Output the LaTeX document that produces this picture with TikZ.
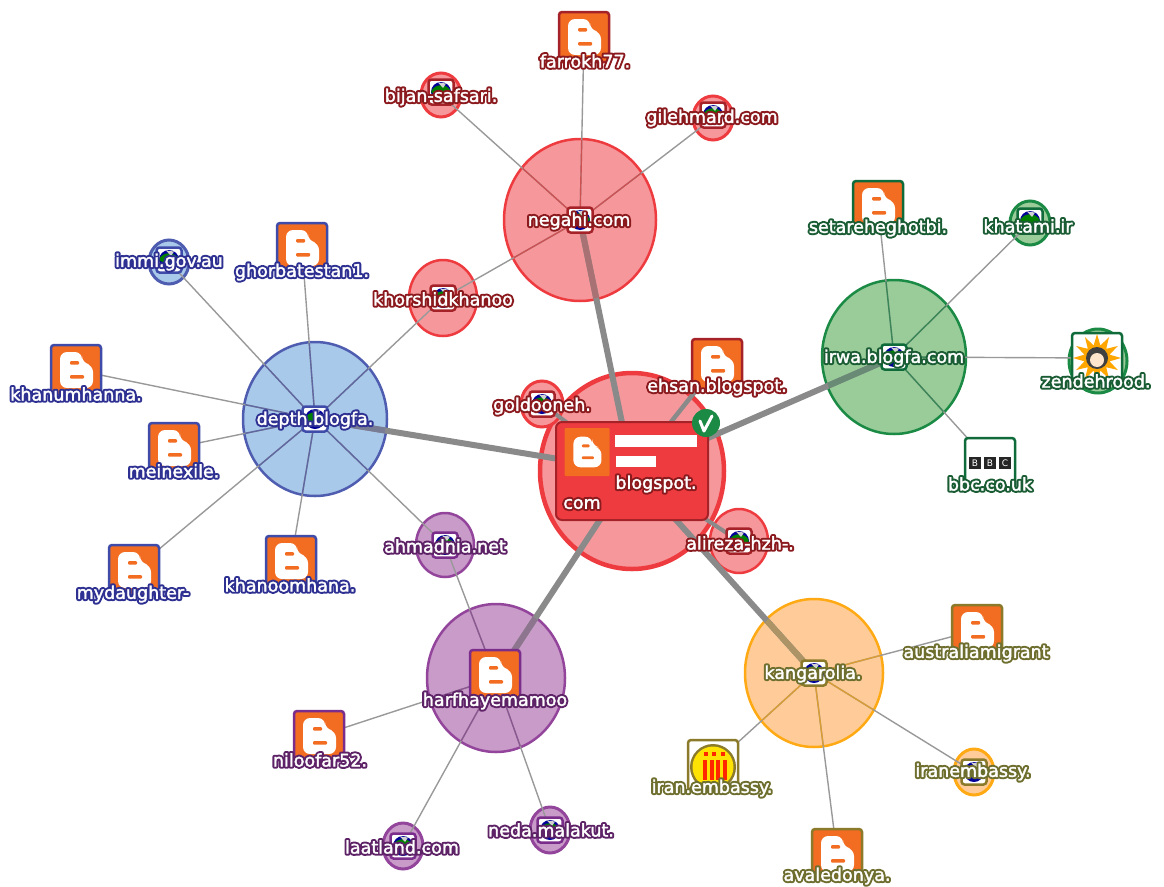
\documentclass[tikz,border=0pt]{standalone}
\usepackage{fontspec}
\setmainfont{DejaVu Sans}
\newfontface\haloface[FakeBold=25]{DejaVu Sans}
\newfontface\whiteface[FakeBold=2]{DejaVu Sans}
\usetikzlibrary{shapes.geometric}
\definecolor{RedB}{HTML}{EE3B3F}\definecolor{RedF}{HTML}{F6989B}\definecolor{RedI}{HTML}{A52228}\definecolor{RedT}{HTML}{8B1A1E}
\definecolor{BluB}{HTML}{4F5DB0}\definecolor{BluF}{HTML}{A9C9EB}\definecolor{BluI}{HTML}{3F4BA8}\definecolor{BluT}{HTML}{2E3192}
\definecolor{GrnB}{HTML}{1B8A45}\definecolor{GrnF}{HTML}{99CC99}\definecolor{GrnI}{HTML}{0F6B3A}\definecolor{GrnT}{HTML}{1A5C33}
\definecolor{PurB}{HTML}{93459B}\definecolor{PurF}{HTML}{C99BC9}\definecolor{PurI}{HTML}{7B2D8B}\definecolor{PurT}{HTML}{5E2267}
\definecolor{OrnB}{HTML}{FFAA14}\definecolor{OrnF}{HTML}{FFCC99}\definecolor{OrnI}{HTML}{8B7A2A}\definecolor{OrnT}{HTML}{6E6E2E}
\definecolor{BlogO}{HTML}{F26C21}
\definecolor{EdgeG}{HTML}{999999}\definecolor{EdgeH}{HTML}{8A8A8A}
\pgfdeclarelayer{circles}\pgfdeclarelayer{links}\pgfsetlayers{circles,links,main}
\tikzset{
  x=1pt,y=-1pt,
  hub/.style={ellipse,inner sep=0pt,line width=2.5pt},
  sitelabel/.style={inner sep=0pt,font=\fontsize{17.5}{20}\selectfont},
  iconbox/.style={rounded corners=3pt,line width=2.5pt,inner sep=0pt,minimum width=#1,minimum height=#1},
  thinlink/.style={draw=EdgeG,line width=1.4pt},
  thicklink/.style={draw=EdgeH,line width=#1},
}
% circle of a site
\newcommand\hubnode[6]{\begin{pgfonlayer}{circles}\node[hub,draw=#6B,fill=#6F,minimum width=#4*2pt,minimum height=#5*2pt] (#1) at (#2,#3) {};\end{pgfonlayer}}
\newcommand\smallhub[6]{\begin{pgfonlayer}{circles}\node[hub,line width=3pt,draw=#6B,fill=#6F,minimum width=#4*2pt,minimum height=#5*2pt] (#1) at (#2,#3) {};\end{pgfonlayer}}
% outlined label
\newcommand\sitelab[5]{\node[sitelabel] (#1) at (#2,#3) {\makebox[0pt][l]{\special{pdf:code 1 j}\color{#4T}\haloface #5}\textcolor{white}{\whiteface #5}};}
% icons
\newcommand\blogmark[3]{\begin{scope}[shift={(#1,#2)},scale=#3]
  \fill[white,rounded corners=7pt] (-16,-18) -- (6,-18) -- (6,-7) -- (17,-5) -- (17,18) -- (-16,18) -- cycle;
  \fill[BlogO,rounded corners=1pt] (-6,-9) rectangle (3,-5.5);
  \fill[BlogO,rounded corners=1pt] (-6,5) rectangle (8,8.5);
\end{scope}}
\newcommand\blogicon[4]{\node[iconbox=50pt,draw=#4I,fill=BlogO] (#1) at (#2,#3) {};\blogmark{#2}{#3}{1}}
\newcommand\globeicon[4]{\node[iconbox=25pt,draw=#4I,fill=white] (#1) at (#2,#3) {};
  \fill[blue!60!black] (#2,#3) circle (10pt);
  \fill[green!50!black] (#2-10,#3) .. controls (#2-7,#3-9) and (#2+7,#3-9) .. (#2+10,#3) .. controls (#2+5,#3+4) and (#2-5,#3+4) .. (#2-10,#3) -- cycle;
  \fill[gray!35] (#2-3,#3-9.5) -- (#2+5,#3-8.5) -- (#2+2,#3-4) -- cycle;}
\begin{document}
\begin{tikzpicture}
\useasboundingbox (0,0) rectangle (1164,886);
% ---- hubs
\hubnode{main}{632}{471}{92}{98}{Red}
\begin{pgfonlayer}{circles}\draw[RedB,line width=4.5pt] (632,471) ellipse [x radius=92,y radius=98];\end{pgfonlayer}
\hubnode{negahi}{580}{220}{76}{81}{Red}
\hubnode{khorshid}{443}{298}{34}{38}{Red}
\smallhub{bijan}{441}{95}{20}{22}{Red}
\smallhub{gilehmard}{713}{118}{20}{22}{Red}
\smallhub{goldooneh}{542}{404}{21}{23}{Red}
\hubnode{alireza}{739}{541}{29}{32}{Red}
\hubnode{depth}{315}{419}{72}{77}{Blu}
\smallhub{immi}{169}{262}{20}{22}{Blu}
\hubnode{irwa}{894}{357}{72}{77}{Grn}
\smallhub{khatami}{1030}{223}{20}{22}{Grn}
\smallhub{zendehrood}{1098}{361}{29}{32}{Grn}
\hubnode{ahmadnia}{445}{545}{29}{32}{Pur}
\hubnode{harf}{496}{678}{69}{74}{Pur}
\smallhub{laatland}{403}{846}{20}{23}{Pur}
\smallhub{neda}{550}{830}{20}{23}{Pur}
\hubnode{kangarolia}{814}{673}{69}{74}{Orn}
\smallhub{iranembassy}{974}{772}{20}{23}{Orn}
% ---- icons
\blogicon{ifarrokh}{584}{37}{Red}
\globeicon{ibijan}{441}{92}{Red}
\globeicon{igilehmard}{713}{115}{Red}
\globeicon{ikhorshid}{443}{298}{Red}
\globeicon{inegahi}{580}{220}{Red}
\blogicon{iehsan}{717}{364}{Red}
\globeicon{igoldooneh}{542}{404}{Red}
\globeicon{ialireza}{739}{541}{Red}
\globeicon{idepth}{315}{419}{Blu}
\globeicon{iimmi}{169}{260}{Blu}
\blogicon{ighorbat}{302}{248}{Blu}
\blogicon{ikhanum}{76}{370}{Blu}
\blogicon{imeinexile}{174}{448}{Blu}
\blogicon{imydaughter}{134}{570}{Blu}
\blogicon{ikhanoom}{291}{561}{Blu}
\globeicon{iirwa}{894}{357}{Grn}
\blogicon{isetareh}{878}{206}{Grn}
\globeicon{ikhatami}{1030}{221}{Grn}
% zendehrood: sun icon
\node[iconbox=50pt,draw=GrnI,fill=white] (izende) at (1097,358) {};
\fill[orange!70!yellow] (1097,358) +(0:24) -- +(15:13) -- +(30:24) -- +(45:13) -- +(60:24) -- +(75:13) -- +(90:24) -- +(105:13) -- +(120:24) -- +(135:13) -- +(150:24) -- +(165:13) -- +(180:24) -- +(195:13) -- +(210:24) -- +(225:13) -- +(240:24) -- +(255:13) -- +(270:24) -- +(285:13) -- +(300:24) -- +(315:13) -- +(330:24) -- +(345:13) -- cycle;
\fill[black!75] (1097,358) circle (11pt);
\fill[white!80!orange] (1097,360) circle (7pt);
% bbc icon
\node[iconbox=50pt,draw=GrnI,fill=white] (ibbc) at (990,463) {};
\foreach \bx/\bl in {975/B,990/B,1005/C}{\node[fill=black!85,text=white,inner sep=0pt,minimum size=12pt,font=\fontsize{9}{10}\selectfont] (bbc\bx) at (\bx,463) {\bl};}
\globeicon{iahmad}{445}{545}{Pur}
\blogicon{iharf}{495}{675}{Pur}
\blogicon{iniloofar}{319}{736}{Pur}
\globeicon{ilaatland}{403}{846}{Pur}
\globeicon{ineda}{550}{830}{Pur}
\globeicon{ikang}{814}{673}{Orn}
\blogicon{iaustralia}{977}{630}{Orn}
\globeicon{iiranemb}{974}{772}{Orn}
% iran embassy icon
\node[iconbox=50pt,draw=OrnI,fill=white] (iiran) at (713,765) {};
\fill[OrnI] (713,767) circle (23pt);
\fill[yellow!85!orange] (713,767) circle (20.5pt);
\foreach \ix in {703,710,716,723}{\fill[red!70!orange] (\ix,760) rectangle (\ix+3.5,780);}
\foreach \ix in {704,712,721}{\fill[red!70!orange] (\ix,752) rectangle (\ix+4,756);}
\blogicon{iavaledonya}{837}{854}{Orn}
% ---- links
\begin{pgfonlayer}{links}
\foreach \a/\b in {negahi/ifarrokh,negahi/bijan,negahi/gilehmard,negahi/khorshid,
  depth/khorshid,depth/immi,depth/ighorbat,depth/ikhanum,depth/imeinexile,depth/imydaughter,depth/ikhanoom,depth/ahmadnia,
  irwa/isetareh,irwa/khatami,irwa/izende,irwa/ibbc,
  harf/ahmadnia,harf/iniloofar,harf/laatland,harf/neda,
  kangarolia/iaustralia,kangarolia/iiranemb,kangarolia/iiran,kangarolia/iavaledonya}
  {\draw[thinlink] (\a.center) -- (\b.center);}
\draw[thicklink=6pt] (main.center) -- (negahi.center);
\draw[thicklink=6pt] (main.center) -- (depth.center);
\draw[thicklink=6pt] (main.center) -- (irwa.center);
\draw[thicklink=6pt] (main.center) -- (harf.center);
\draw[thicklink=6pt] (main.center) -- (kangarolia.center);
\draw[thicklink=4.5pt] (main.center) -- (iehsan.center);
\draw[thicklink=4pt] (main.center) -- (goldooneh.center);
\draw[thicklink=4pt] (main.center) -- (alireza.center);
\foreach \s/\cx/\cy/\rx/\ry/\cc/\list in {
  depth/315/419/71/76/BluB/{khorshid,immi,ighorbat,ikhanum,imeinexile,imydaughter,ikhanoom,ahmadnia},
  negahi/580/220/75/80/RedB/{ifarrokh,bijan,gilehmard,khorshid},
  irwa/894/357/71/76/GrnB/{isetareh,khatami,izende,ibbc},
  harf/496/678/68/73/PurB/{ahmadnia,iniloofar,laatland,neda},
  kangarolia/814/673/68/73/OrnB/{iaustralia,iiranemb,iiran,iavaledonya}}{
  \begin{scope}
    \clip (\cx,\cy) ellipse [x radius=\rx,y radius=\ry];
    \foreach \t in \list {\draw[\cc!70!gray,line width=1.4pt] (\s.center) -- (\t.center);}
    \draw[\cc!30!EdgeH,line width=6pt] (\s.center) -- (main.center);
  \end{scope}}
\end{pgfonlayer}
% ---- main card
\node[rounded corners=6pt,draw=RedI,fill=RedB,line width=2pt,minimum width=152pt,minimum height=98pt,inner sep=0pt] (card) at (632,471) {};
\node[rounded corners=1pt,fill=BlogO,minimum width=45pt,minimum height=48pt,inner sep=0pt] (cardicon) at (587,452) {};
\blogmark{587}{452}{0.85}
\fill[white] (615,435) rectangle (697,447);
\fill[white] (616,456) rectangle (656,467);
\sitelab{lblogspot}{656}{484}{Red}{blogspot.}
\sitelab{lcom}{582}{504}{Red}{com}
\node[circle,fill=GrnB,minimum size=28pt,inner sep=0pt] (check) at (706,423) {};
\draw[white,line width=3pt,line cap=round,line join=round] (700,421) -- (704,431) -- (712,416);
% ---- labels
\sitelab{lfarrokh}{585}{61}{Red}{farrokh77.}
\sitelab{lbijan}{441}{97}{Red}{bijan-safsari.}
\sitelab{lgilehmard}{712}{118}{Red}{gilehmard.com}
\sitelab{lnegahi}{579}{221}{Red}{negahi.com}
\sitelab{lkhorshid}{443}{299}{Red}{khorshidkhanoo}
\sitelab{lehsan}{717}{387}{Red}{ehsan.blogspot.}
\sitelab{lgoldooneh}{542}{406}{Red}{goldooneh.}
\sitelab{lalireza}{740}{543}{Red}{alireza-hzh-.}
\sitelab{lsetareh}{878}{228}{Grn}{setareheghotbi.}
\sitelab{lkhatami}{1028}{226}{Grn}{khatami.ir}
\sitelab{lirwa}{894}{358}{Grn}{irwa.blogfa.com}
\sitelab{lzende}{1096}{381}{Grn}{zendehrood.}
\sitelab{lbbc}{990}{484}{Grn}{bbc.co.uk}
\sitelab{limmi}{169}{262}{Blu}{immi.gov.au}
\sitelab{lghorbat}{302}{272}{Blu}{ghorbatestan1.}
\sitelab{lkhanum}{76}{394}{Blu}{khanumhanna.}
\sitelab{ldepth}{315}{420}{Blu}{depth.blogfa.}
\sitelab{lmeinexile}{174}{471}{Blu}{meinexile.}
\sitelab{lmydaughter}{133}{594}{Blu}{mydaughter-}
\sitelab{lkhanoom}{290}{585}{Blu}{khanoomhana.}
\sitelab{lahmad}{445}{546}{Pur}{ahmadnia.net}
\sitelab{lharf}{495}{701}{Pur}{harfhayemamoo}
\sitelab{lniloofar}{320}{760}{Pur}{niloofar52.}
\sitelab{llaatland}{402}{847}{Pur}{laatland.com}
\sitelab{lneda}{551}{830}{Pur}{neda.malakut.}
\sitelab{lkang}{813}{674}{Orn}{kangarolia.}
\sitelab{laustralia}{976}{653}{Orn}{australiamigrant}
\sitelab{liranemb}{973}{772}{Orn}{iranembassy.}
\sitelab{liran}{712}{788}{Orn}{iran.embassy.}
\sitelab{lavaledonya}{837}{876}{Orn}{avaledonya.}
\end{tikzpicture}
\end{document}
